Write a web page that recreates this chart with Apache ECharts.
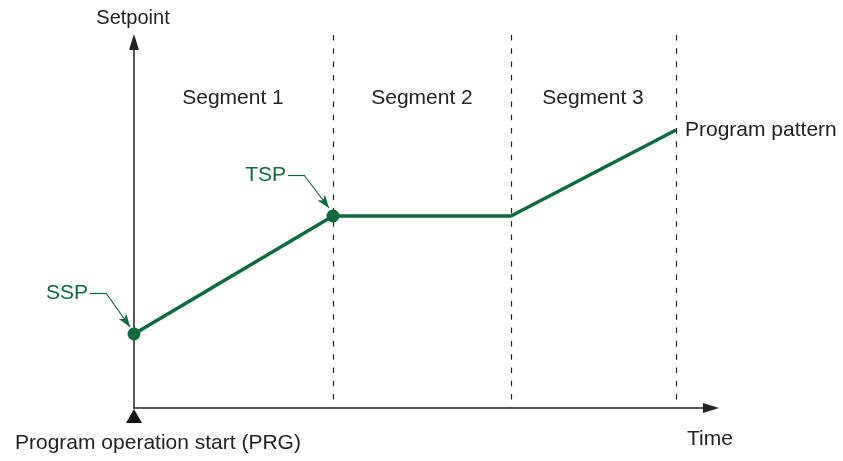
<!DOCTYPE html>
<html><head><meta charset="utf-8">
<script src="https://cdn.jsdelivr.net/npm/echarts@6/dist/echarts.min.js"></script>
<style>html,body{margin:0;padding:0;background:#fff}#c{width:843px;height:461px}</style>
</head><body><div id="c"></div>
<script>
// Program pattern (time, setpoint) in arbitrary units
var patternTime = [0, 199, 377, 542];
var patternSetpoint = [74, 192, 192, 278];
var segmentBounds = [199, 377, 542];
var segmentTop = 373;
var segmentNames = ['Segment 1', 'Segment 2', 'Segment 3'];
var segmentLabelTime = [99, 288, 459];
var segmentLabelY = 310;
var markedPoints = [[0, 74], [199, 192]];
var annotationNames = ['SSP', 'TSP'];
var annotationText = [[-44, 115], [154, 233]];
var annotationElbow = [[-28, 115], [170, 233]];
var annotationTip = [[-4, 81], [195, 200]];
var startMarker = [[0, -8]];

var GREEN = '#0b6b3c';
var FONT = '"Liberation Sans", Arial, sans-serif';
var chart = echarts.init(document.getElementById('c'));

var lineData = patternTime.map(function (t, i) { return [t, patternSetpoint[i]]; });
var segLabels = segmentNames.map(function (n, i) { return { value: [segmentLabelTime[i], segmentLabelY], name: n }; });
var annLines = [];
annotationNames.forEach(function (n, i) {
  annLines.push([{ coord: annotationText[i], symbol: 'none' }, { coord: annotationElbow[i], symbol: 'none' }]);
  annLines.push([{ coord: annotationElbow[i], symbol: 'none' }, { coord: annotationTip[i], symbol: 'arrow', symbolSize: [7, 13] }]);
});

chart.setOption({
  animation: false,
  grid: [
    { left: 134, top: 42, width: 577, height: 366 },
    { left: 0, top: 0, width: 843, height: 461 }
  ],
  xAxis: [{
    type: 'value', min: 0, max: 577, gridIndex: 0,
    axisLine: { show: true, symbol: ['none', 'triangle'], symbolSize: [10, 16], lineStyle: { color: '#222', width: 1.5 } },
    axisTick: { show: false }, axisLabel: { show: false }, splitLine: { show: false }
  }, {
    type: 'value', min: -134, max: 709, gridIndex: 1, show: false
  }],
  yAxis: [{
    type: 'value', min: 0, max: 366, gridIndex: 0,
    axisLine: { show: true, onZero: false, symbol: ['none', 'triangle'], symbolSize: [10, 16], lineStyle: { color: '#222', width: 1.5 } },
    axisTick: { show: false }, axisLabel: { show: false }, splitLine: { show: false }
  }, {
    type: 'value', min: -53, max: 408, gridIndex: 1, show: false
  }],
  graphic: [
    { type: 'text', x: 133, y: 18, style: { text: 'Setpoint', font: '20px ' + FONT, fill: '#222', align: 'center', verticalAlign: 'middle' } },
    { type: 'text', x: 710, y: 439, style: { text: 'Time', font: '21px ' + FONT, fill: '#222', align: 'center', verticalAlign: 'middle' } },
    { type: 'text', x: 15, y: 443, style: { text: 'Program operation start (PRG)', font: '21px ' + FONT, fill: '#222', align: 'left', verticalAlign: 'middle' } }
  ],
  series: [
    {
      type: 'line', data: lineData, xAxisIndex: 0, yAxisIndex: 0, clip: false,
      symbol: 'none', z: 4,
      lineStyle: { color: GREEN, width: 3.5 },
      endLabel: { show: true, formatter: 'Program pattern', color: '#222', fontSize: 21, fontFamily: FONT, distance: 9 }
    },
    {
      type: 'scatter', data: markedPoints, xAxisIndex: 0, yAxisIndex: 0, clip: false,
      symbol: 'circle', symbolSize: 13,
      itemStyle: { color: GREEN, opacity: 1 }, z: 5
    },
    {
      type: 'line', data: [], xAxisIndex: 1, yAxisIndex: 1, z: 1,
      markLine: {
        silent: true, symbol: 'none', animation: false,
        lineStyle: { color: '#222', type: [5.5, 7.8], width: 1.2 },
        label: { show: false },
        data: segmentBounds.map(function (b) { return [{ coord: [b, segmentTop] }, { coord: [b, 0] }]; })
      }
    },
    {
      type: 'scatter', data: segLabels, symbolSize: 0, xAxisIndex: 1, yAxisIndex: 1,
      itemStyle: { opacity: 1 },
      label: { show: true, position: 'inside', formatter: '{b}', color: '#222', fontSize: 21, fontFamily: FONT }
    },
    {
      type: 'scatter', data: startMarker, xAxisIndex: 1, yAxisIndex: 1,
      symbol: 'triangle', symbolSize: [16, 14],
      itemStyle: { color: '#111', opacity: 1 }
    },
    {
      type: 'line', data: [], xAxisIndex: 1, yAxisIndex: 1,
      markLine: {
        silent: true, animation: false,
        lineStyle: { color: GREEN, width: 1.2, type: 'solid' },
        label: { show: false },
        data: annLines
      }
    },
    {
      type: 'scatter', symbolSize: 0, xAxisIndex: 1, yAxisIndex: 1,
      data: annotationNames.map(function (n, i) { return { value: annotationText[i], name: n }; }),
      itemStyle: { opacity: 1 },
      label: { show: true, position: 'left', distance: 2, formatter: '{b}', color: GREEN, fontSize: 21, fontFamily: FONT }
    }
  ]
});
</script></body></html>
